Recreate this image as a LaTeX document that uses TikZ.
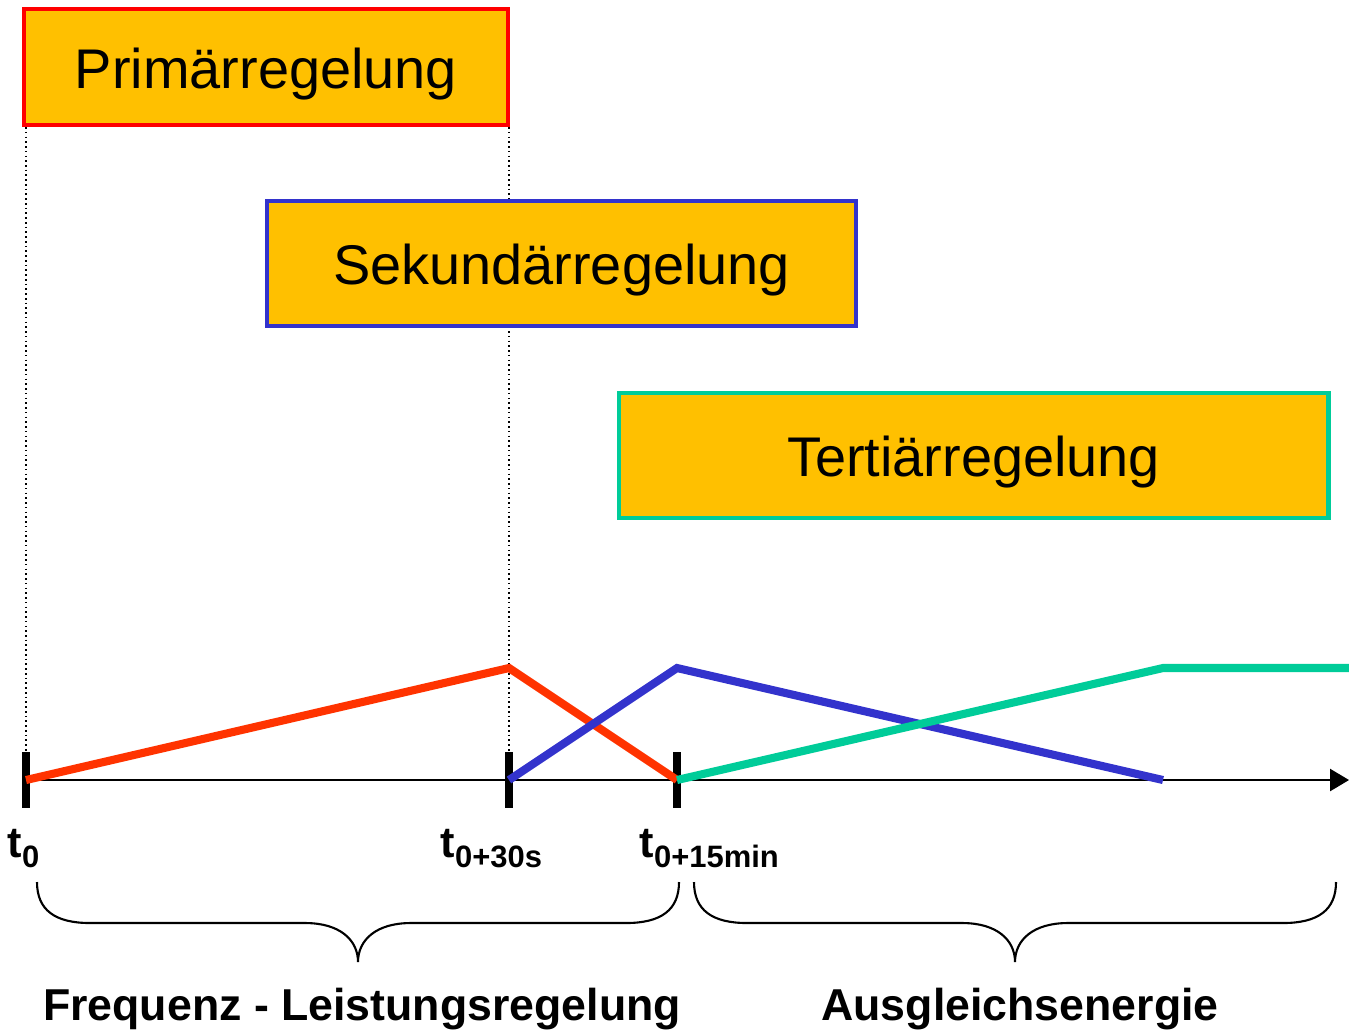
\documentclass[tikz,border=0pt]{standalone}
\usepackage{fontspec}
\setmainfont{Liberation Sans}
\usetikzlibrary{arrows.meta}
\definecolor{boxfill}{HTML}{FFC000}
\definecolor{cred}{HTML}{FF0000}
\definecolor{cblue}{HTML}{3333CC}
\definecolor{cgreen}{HTML}{00CC99}
\definecolor{lred}{HTML}{FF3300}
\tikzset{
  regbox/.style={rectangle, fill=boxfill, line width=1.3pt, inner sep=0pt,
    text height=0.42cm, text depth=0cm,
    minimum height=1.25cm, font=\fontsize{15.9}{19}\selectfont},
  curve/.style={line width=2.3pt},
  tickmark/.style={line width=2.4pt},
  axisline/.style={line width=0.6pt, -{Triangle[length=5.4pt,width=6.3pt]}},
  dotline/.style={line width=0.45pt, dash pattern=on 0.45pt off 0.9pt},
  bracepath/.style={line width=0.6pt},
  tlabel/.style={inner sep=0pt, anchor=base west, font=\bfseries},
  biglabel/.style={inner sep=0pt, anchor=base, font=\bfseries\fontsize{12.7}{15}\selectfont}
}
\newcommand{\tsub}[1]{{\fontsize{12.3}{14}\selectfont t}\raisebox{-2.9pt}{\fontsize{8.8}{10}\selectfont #1}}
\begin{document}
\begin{tikzpicture}[x=0.01cm,y=-0.01cm]
\useasboundingbox (0,0) rectangle (1349,1029);
% time points
\coordinate (T0) at (26,780);
\coordinate (T1) at (509,780);
\coordinate (T2) at (677,780);
\coordinate (AxEnd) at (1349,780);
\coordinate (T0top) at (26,752);
\coordinate (T1top) at (509,752);
\coordinate (T2top) at (677,752);
\coordinate (T0bot) at (26,808);
\coordinate (T1bot) at (509,808);
\coordinate (T2bot) at (677,808);
\coordinate (D0) at (26,127);
\coordinate (D1) at (509,127);
% dotted guide lines (behind the boxes)
\draw[dotline] (D0) -- (T0top);
\draw[dotline] (D1) -- (T1top);
% boxes
\node[regbox, draw=cred, minimum width=4.84cm, minimum height=1.16cm] (prim) at (266,67) {Primärregelung};
\node[regbox, draw=cblue, minimum width=5.89cm] (sek) at (561.5,263.5) {Sekundärregelung};
\node[regbox, draw=cgreen, minimum width=7.09cm] (ter) at (973.5,455.5) {Tertiärregelung};
% axis
\draw[axisline] (T0) -- (AxEnd);
% ticks
\draw[tickmark] (T0top) -- (T0bot);
\draw[tickmark] (T1top) -- (T1bot);
\draw[tickmark] (T2top) -- (T2bot);
% curves
\coordinate (Rpk) at (509,668);
\coordinate (Bpk) at (677,668);
\coordinate (Bend) at (1163,780);
\coordinate (Gpk) at (1163,668);
\coordinate (Gend) at (1349,668);
\draw[curve, lred] (T0) -- (Rpk) -- (T2);
\draw[curve, cblue] (T1) -- (Bpk) -- (Bend);
\draw[curve, cgreen] (T2) -- (Gpk) -- (Gend);
% time labels
\node[tlabel] (l0) at (7,857) {\tsub{0}};
\node[tlabel] (l1) at (440,857) {\tsub{0+30s}};
\node[tlabel] (l2) at (639,857) {\tsub{0+15min}};
% braces
\draw[bracepath] (37,882) .. controls (37,910) and (55,923) .. (90,923) -- (305,923)
  .. controls (340,923) and (358,940) .. (358,962)
  .. controls (358,940) and (376,923) .. (411,923) -- (626,923)
  .. controls (661,923) and (679,910) .. (679,882);
\draw[bracepath] (694,882) .. controls (694,910) and (712,923) .. (747,923) -- (962,923)
  .. controls (997,923) and (1015,940) .. (1015,962)
  .. controls (1015,940) and (1033,923) .. (1068,923) -- (1283,923)
  .. controls (1318,923) and (1336,910) .. (1336,882);
% brace labels
\node[biglabel] (fl) at (362,1020) {Frequenz - Leistungsregelung};
\node[biglabel] (ae) at (1020,1020) {Ausgleichsenergie};
\end{tikzpicture}
\end{document}
